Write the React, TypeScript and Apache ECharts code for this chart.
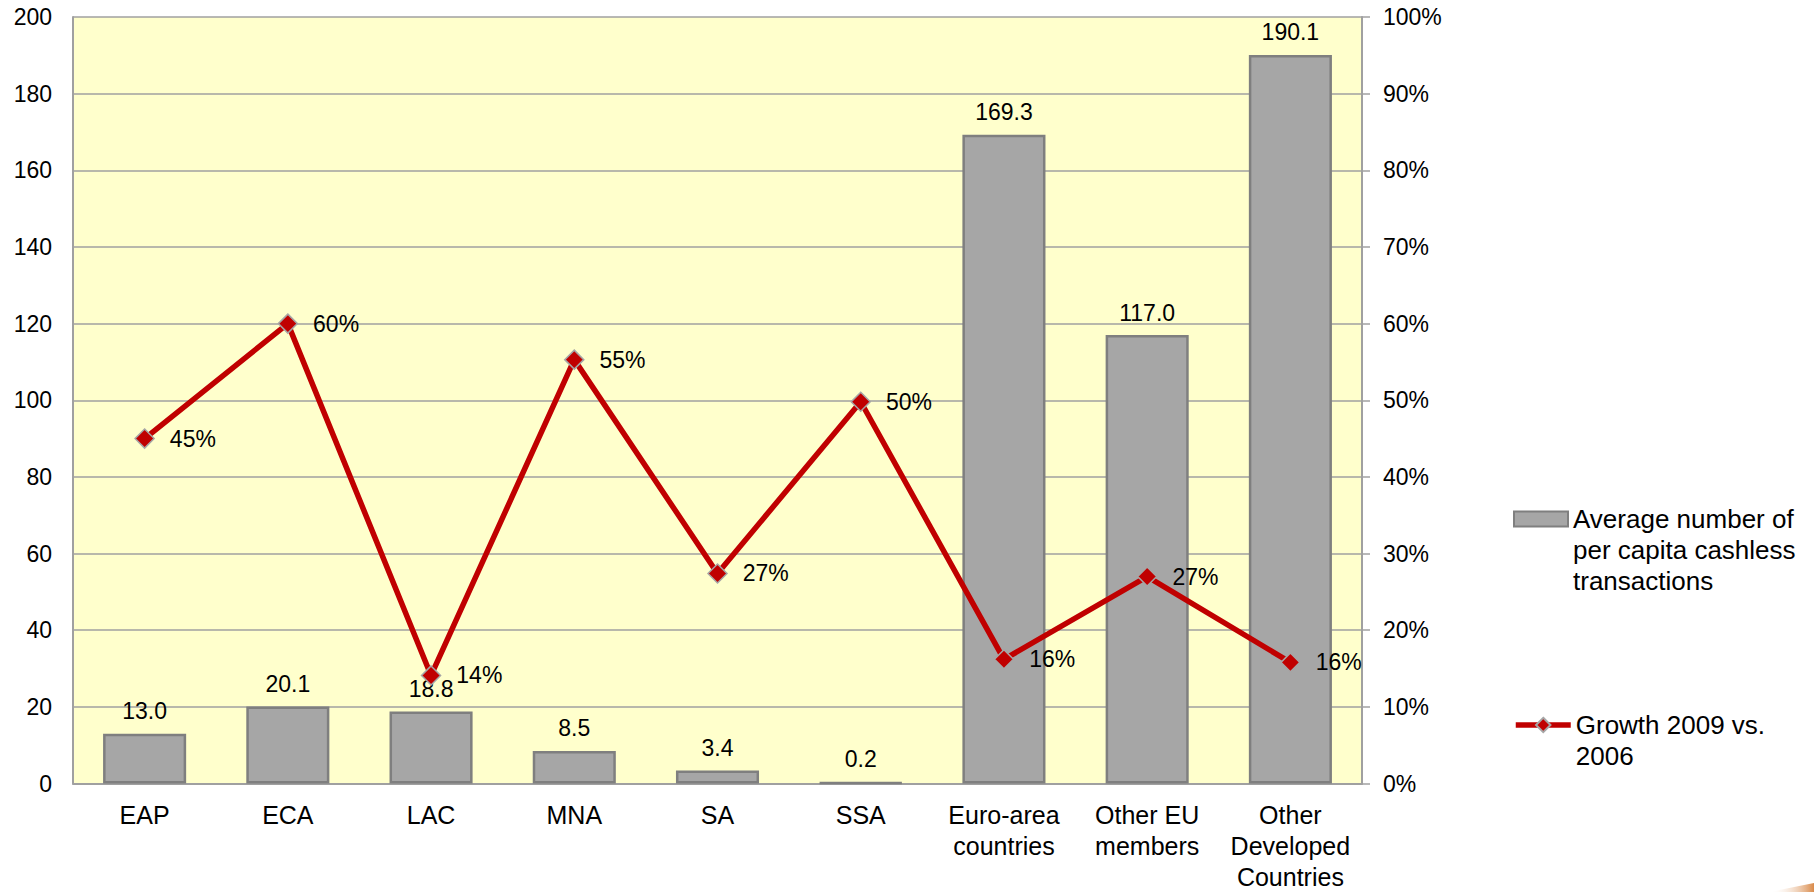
import React, { useEffect, useRef } from "react";
import * as echarts from "echarts";

const categories: string[] = [
  "EAP",
  "ECA",
  "LAC",
  "MNA",
  "SA",
  "SSA",
  "Euro-area\ncountries",
  "Other EU\nmembers",
  "Other\nDeveloped\nCountries",
];

const cashlessTransactions: number[] = [13.0, 20.1, 18.8, 8.5, 3.4, 0.2, 169.3, 117.0, 190.1];

const growth2009vs2006: number[] = [0.45, 0.6, 0.141, 0.553, 0.274, 0.498, 0.162, 0.27, 0.158];

const leftTicks = { min: 0, max: 200, interval: 20 };
const rightTicks = { min: 0, max: 1, interval: 0.1 };

const barName = "Average number of per capita cashless transactions";
const lineName = "Growth 2009 vs. 2006";
const barLegendText = "\n\nAverage number of\nper capita cashless\ntransactions";
const lineLegendText = "\nGrowth 2009 vs.\n2006";

const FONT = "'Liberation Sans', Arial, Helvetica, sans-serif";

export default function App() {
  const ref = useRef<HTMLDivElement>(null);

  useEffect(() => {
    if (!ref.current) return;
    const chart = echarts.init(ref.current, null, { renderer: "svg" });
    const option: any = {
      animation: false,
      backgroundColor: "#ffffff",
      textStyle: { fontFamily: FONT, color: "#000" },
      grid: {
        left: 73,
        right: 452,
        top: 17,
        bottom: 104,
        show: true,
        backgroundColor: "#ffffcc",
        borderWidth: 0,
      },
      legend: [
        {
          data: [{ name: barName }],
          orient: "vertical",
          left: 1513,
          top: 441.5,
          padding: 0,
          itemWidth: 54,
          itemHeight: 15,
          icon: "rect",
          selectedMode: false,
          formatter: () => barLegendText,
          textStyle: { fontSize: 26, lineHeight: 31, color: "#000", fontFamily: FONT },
        },
        {
          data: [{ name: lineName }],
          orient: "vertical",
          left: 1513,
          top: 678.5,
          padding: 0,
          itemWidth: 55,
          itemHeight: 18,
          selectedMode: false,
          lineStyle: { width: 5.5, color: "#c00000" },
          formatter: () => lineLegendText,
          textStyle: { fontSize: 26, lineHeight: 31, color: "#000", fontFamily: FONT },
        },
      ],
      xAxis: {
        type: "category",
        data: categories,
        axisLine: { show: true, lineStyle: { color: "#a0a0a0", width: 2 } },
        axisTick: { show: false },
        axisLabel: {
          interval: 0,
          fontSize: 25,
          lineHeight: 31,
          margin: 15.5,
          color: "#000",
          fontFamily: FONT,
        },
      },
      yAxis: [
        {
          type: "value",
          min: leftTicks.min,
          max: leftTicks.max,
          interval: leftTicks.interval,
          axisLine: { show: true, lineStyle: { color: "#a0a0a0", width: 2 } },
          axisTick: { show: false },
          axisLabel: { fontSize: 23, margin: 21, color: "#000", fontFamily: FONT },
          splitLine: { show: true, lineStyle: { color: "#a0a0a0", width: 1.5 } },
        },
        {
          type: "value",
          min: rightTicks.min,
          max: rightTicks.max,
          interval: rightTicks.interval,
          position: "right",
          axisLine: { show: true, lineStyle: { color: "#a0a0a0", width: 2 } },
          axisTick: { show: true, length: 8, lineStyle: { color: "#a0a0a0", width: 1.5 } },
          axisLabel: {
            fontSize: 23,
            margin: 21,
            color: "#000",
            fontFamily: FONT,
            formatter: (v: number) => `${Math.round(v * 100)}%`,
          },
          splitLine: { show: false },
        },
      ],
      series: [
        {
          name: barName,
          type: "bar",
          data: cashlessTransactions,
          barWidth: "58%",
          itemStyle: { color: "#a6a6a6", borderColor: "#7f7f7f", borderWidth: 2.5 },
          label: {
            show: true,
            position: "top",
            distance: 11,
            fontSize: 23,
            color: "#000",
            fontFamily: FONT,
            formatter: (p: any) => Number(p.value).toFixed(1),
          },
          z: 2,
        },
        {
          name: lineName,
          type: "line",
          yAxisIndex: 1,
          data: growth2009vs2006,
          symbol: "diamond",
          symbolSize: 19,
          lineStyle: { color: "#c00000", width: 5.5 },
          itemStyle: { color: "#c00000", borderColor: "#a6a6a6", borderWidth: 1.5 },
          label: {
            show: true,
            position: "right",
            distance: 15,
            fontSize: 23,
            color: "#000",
            fontFamily: FONT,
            formatter: (p: any) => `${Math.round(p.value * 100)}%`,
          },
          z: 3,
        },
      ],
      graphic: [
        {
          type: "polygon",
          silent: true,
          shape: {
            points: [
              [1770, 892],
              [1814, 883],
              [1814, 892],
            ],
          },
          style: {
            fill: new echarts.graphic.LinearGradient(0, 0, 1, 0, [
              { offset: 0, color: "rgba(255,255,255,0)" },
              { offset: 1, color: "#d98a4a" },
            ]),
          },
        },
      ],
    };
    chart.setOption(option);
    return () => chart.dispose();
  }, []);

  return (
    <div
      ref={ref}
      style={{ position: "fixed", left: 0, top: 0, width: 1814, height: 892 }}
    />
  );
}
